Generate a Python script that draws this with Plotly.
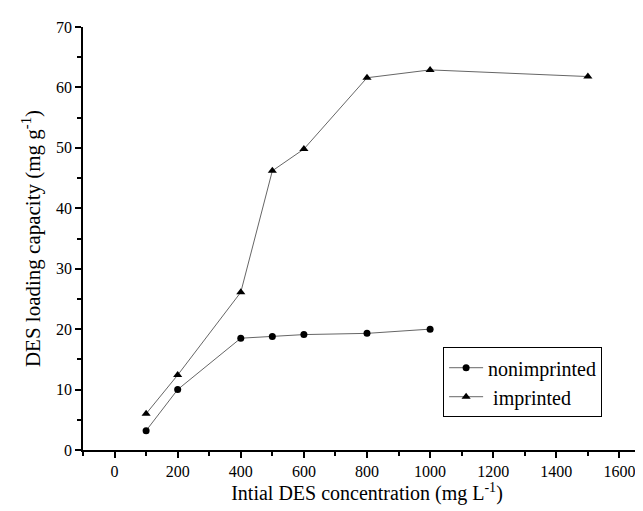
import plotly.graph_objects as go

conc_non = [100, 200, 400, 500, 600, 800, 1000]
load_non = [3.2, 10.0, 18.5, 18.8, 19.1, 19.3, 20.0]
conc_imp = [100, 200, 400, 500, 600, 800, 1000, 1500]
load_imp = [6.0, 12.4, 26.1, 46.2, 49.8, 61.6, 62.9, 61.8]
x_ticks = [0, 200, 400, 600, 800, 1000, 1200, 1400, 1600]
y_ticks = [0, 10, 20, 30, 40, 50, 60, 70]

FONT = "Liberation Serif"

fig = go.Figure()
fig.add_trace(go.Scatter(
    x=conc_non, y=load_non, mode="lines+markers", name="nonimprinted",
    line=dict(color="#666666", width=1),
    marker=dict(symbol="circle", size=7, color="black"),
))
fig.add_trace(go.Scatter(
    x=conc_imp, y=load_imp, mode="lines+markers", name=" imprinted",
    line=dict(color="#666666", width=1),
    marker=dict(symbol="triangle-up", size=8, color="black"),
))

fig.update_layout(
    width=643, height=511,
    margin=dict(l=75, r=0, t=19, b=69),
    paper_bgcolor="white", plot_bgcolor="white",
    font=dict(family=FONT, color="black", size=16),
    showlegend=True,
    legend=dict(
        x=0.634, y=0.243, xanchor="left", yanchor="top",
        bordercolor="black", borderwidth=1, bgcolor="white",
        font=dict(family=FONT, size=20, color="black"),
        itemwidth=34, tracegroupgap=0,
    ),
    xaxis=dict(
        range=[-100, 1700], tickvals=x_ticks, ticktext=[str(v) for v in x_ticks],
        showgrid=False, zeroline=False, showline=True, linecolor="black", linewidth=1.5,
        ticks="outside", ticklen=6, tickwidth=1.5, tickcolor="black",
        minor=dict(ticks="outside", ticklen=4, tickwidth=1.5, tickcolor="black", dtick=100, tick0=0, showgrid=False),
        tickfont=dict(family=FONT, size=16),
        title=dict(text="Intial DES concentration (mg L<sup>-1</sup>)", font=dict(family=FONT, size=20), standoff=6),
    ),
    yaxis=dict(
        range=[0, 70], tickvals=y_ticks, ticktext=[str(v) for v in y_ticks],
        showgrid=False, zeroline=False, showline=True, linecolor="black", linewidth=1.5,
        ticks="outside", ticklen=6, tickwidth=1.5, tickcolor="black",
        minor=dict(ticks="outside", ticklen=4, tickwidth=1.5, tickcolor="black", dtick=5, tick0=0, showgrid=False),
        tickfont=dict(family=FONT, size=16),
        title=dict(text="DES loading capacity (mg g<sup>-1</sup>)", font=dict(family=FONT, size=21), standoff=10),
    ),
)

fig.write_html("out.html")
